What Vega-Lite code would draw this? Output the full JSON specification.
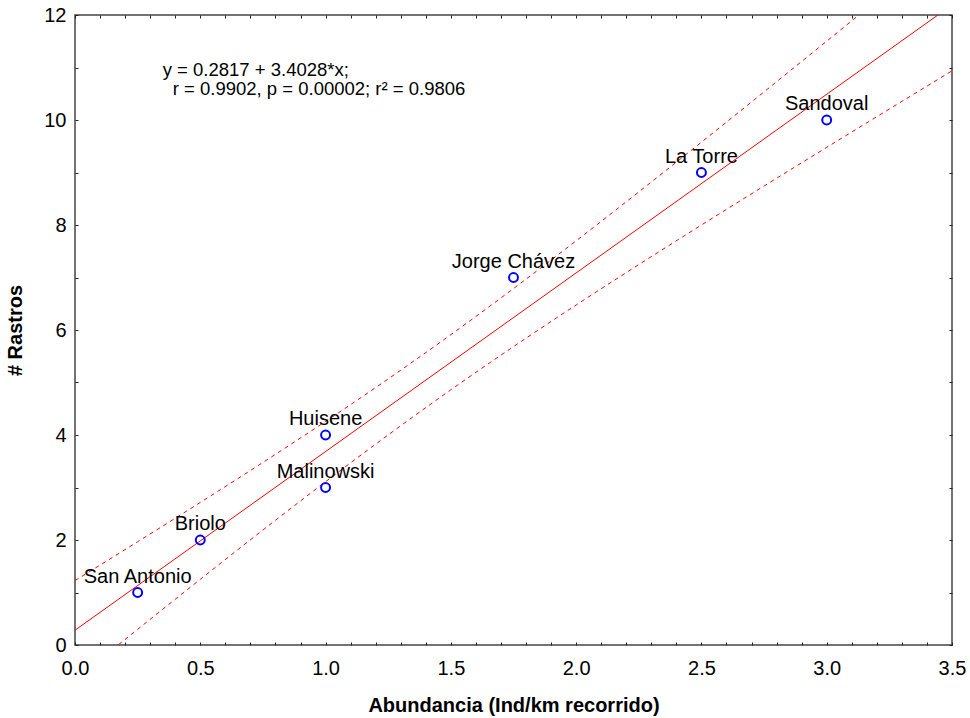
{
  "$schema": "https://vega.github.io/schema/vega-lite/v6.json",
  "width": 877,
  "height": 630,
  "autosize": {"type": "none"},
  "padding": {"left": 75, "top": 15, "right": 18, "bottom": 73},
  "background": "white",
  "config": {
    "view": {"stroke": "#444444", "strokeWidth": 1.5},
    "font": "Liberation Sans",
    "axis": {
      "grid": false,
      "domain": false,
      "tickSize": -3,
      "tickColor": "#222222",
      "tickWidth": 1,
      "labelFont": "Liberation Sans",
      "labelFontSize": 20,
      "labelColor": "#000000",
      "titleFont": "Liberation Sans",
      "titleFontSize": 20,
      "titleFontWeight": "bold",
      "titleColor": "#000000"
    }
  },
  "datasets": {
    "points": [
      {"site": "San Antonio", "abundancia": 0.25, "rastros": 1},
      {"site": "Briolo", "abundancia": 0.5, "rastros": 2},
      {"site": "Malinowski", "abundancia": 1.0, "rastros": 3},
      {"site": "Huisene", "abundancia": 1.0, "rastros": 4},
      {"site": "Jorge Chávez", "abundancia": 1.75, "rastros": 7},
      {"site": "La Torre", "abundancia": 2.5, "rastros": 9},
      {"site": "Sandoval", "abundancia": 3.0, "rastros": 10}
    ],
    "fit": [
      {"abundancia": 0.0, "rastros": 0.2817},
      {"abundancia": 3.5, "rastros": 12.1915}
    ],
    "bands": [
      {"band": "upper", "abundancia": 0.0, "rastros": 1.2268},
      {"band": "upper", "abundancia": 0.25, "rastros": 1.9665},
      {"band": "upper", "abundancia": 0.5, "rastros": 2.7152},
      {"band": "upper", "abundancia": 0.75, "rastros": 3.4773},
      {"band": "upper", "abundancia": 1.0, "rastros": 4.2592},
      {"band": "upper", "abundancia": 1.25, "rastros": 5.0683},
      {"band": "upper", "abundancia": 1.5, "rastros": 5.9114},
      {"band": "upper", "abundancia": 1.75, "rastros": 6.7897},
      {"band": "upper", "abundancia": 2.0, "rastros": 7.6985},
      {"band": "upper", "abundancia": 2.25, "rastros": 8.6302},
      {"band": "upper", "abundancia": 2.5, "rastros": 9.5777},
      {"band": "upper", "abundancia": 2.75, "rastros": 10.536},
      {"band": "upper", "abundancia": 3.0, "rastros": 11.5016},
      {"band": "upper", "abundancia": 3.25, "rastros": 12.4723},
      {"band": "upper", "abundancia": 3.5, "rastros": 13.4466},
      {"band": "lower", "abundancia": 0.0, "rastros": -0.6634},
      {"band": "lower", "abundancia": 0.25, "rastros": 0.2984},
      {"band": "lower", "abundancia": 0.5, "rastros": 1.251},
      {"band": "lower", "abundancia": 0.75, "rastros": 2.1903},
      {"band": "lower", "abundancia": 1.0, "rastros": 3.1098},
      {"band": "lower", "abundancia": 1.25, "rastros": 4.0021},
      {"band": "lower", "abundancia": 1.5, "rastros": 4.8605},
      {"band": "lower", "abundancia": 1.75, "rastros": 5.6835},
      {"band": "lower", "abundancia": 2.0, "rastros": 6.4761},
      {"band": "lower", "abundancia": 2.25, "rastros": 7.2458},
      {"band": "lower", "abundancia": 2.5, "rastros": 7.9997},
      {"band": "lower", "abundancia": 2.75, "rastros": 8.7428},
      {"band": "lower", "abundancia": 3.0, "rastros": 9.4786},
      {"band": "lower", "abundancia": 3.25, "rastros": 10.2093},
      {"band": "lower", "abundancia": 3.5, "rastros": 10.9364}
    ],
    "equation": [
      {"line": "y = 0.2817 + 3.4028*x;", "abundancia": 0.35, "rastros": 10.84},
      {"line": "r = 0.9902, p = 0.00002; r² = 0.9806", "abundancia": 0.39, "rastros": 10.47}
    ]
  },
  "layer": [
    {
      "data": {"name": "bands"},
      "mark": {"type": "line", "color": "#ff0000", "strokeWidth": 1, "strokeDash": [4, 4], "clip": true, "interpolate": "monotone"},
      "encoding": {
        "x": {
          "field": "abundancia", "type": "quantitative",
          "scale": {"domain": [0, 3.5], "nice": false, "zero": false},
          "axis": {
            "orient": "bottom",
            "title": "Abundancia (Ind/km recorrido)",
            "values": [0,0.1,0.2,0.3,0.4,0.5,0.6,0.7,0.8,0.9,1,1.1,1.2,1.3,1.4,1.5,1.6,1.7,1.8,1.9,2,2.1,2.2,2.3,2.4,2.5,2.6,2.7,2.8,2.9,3,3.1,3.2,3.3,3.4,3.5],
            "labelExpr": "round(datum.value * 10) % 5 == 0 ? format(datum.value, '.1f') : ''",
            "labelPadding": 16,
            "labelFlush": false,
            "labelOverlap": false,
            "titlePadding": 17
          }
        },
        "y": {
          "field": "rastros", "type": "quantitative",
          "scale": {"domain": [0, 12], "nice": false},
          "axis": {
            "orient": "left",
            "title": "# Rastros",
            "values": [0,1,2,3,4,5,6,7,8,9,10,11,12],
            "labelExpr": "datum.value % 2 == 0 ? format(datum.value, 'd') : ''",
            "labelPadding": 12,
            "labelFlush": false,
            "labelOverlap": false,
            "titlePadding": 18
          }
        },
        "detail": {"field": "band", "type": "nominal"}
      }
    },
    {
      "data": {"name": "fit"},
      "mark": {"type": "line", "color": "#ff0000", "strokeWidth": 1, "clip": true},
      "encoding": {
        "x": {
          "field": "abundancia", "type": "quantitative",
          "axis": {
            "orient": "top",
            "title": null,
            "labels": false,
            "values": [0,0.1,0.2,0.3,0.4,0.5,0.6,0.7,0.8,0.9,1,1.1,1.2,1.3,1.4,1.5,1.6,1.7,1.8,1.9,2,2.1,2.2,2.3,2.4,2.5,2.6,2.7,2.8,2.9,3,3.1,3.2,3.3,3.4,3.5]
          }
        },
        "y": {
          "field": "rastros", "type": "quantitative",
          "axis": {
            "orient": "right",
            "title": null,
            "labels": false,
            "values": [0,1,2,3,4,5,6,7,8,9,10,11,12]
          }
        }
      }
    },
    {
      "data": {"name": "points"},
      "mark": {"type": "point", "shape": "circle", "filled": false, "color": "#0000ff", "strokeWidth": 2, "size": 80, "opacity": 1},
      "encoding": {
        "x": {"field": "abundancia", "type": "quantitative", "axis": null},
        "y": {"field": "rastros", "type": "quantitative", "axis": null}
      }
    },
    {
      "data": {"name": "points"},
      "mark": {"type": "text", "align": "center", "baseline": "alphabetic", "dy": -10, "fontSize": 20, "font": "Liberation Sans", "color": "#000000"},
      "encoding": {
        "x": {"field": "abundancia", "type": "quantitative", "axis": null},
        "y": {"field": "rastros", "type": "quantitative", "axis": null},
        "text": {"field": "site", "type": "nominal"}
      }
    },
    {
      "data": {"name": "equation"},
      "mark": {"type": "text", "align": "left", "baseline": "alphabetic", "fontSize": 18.5, "font": "Liberation Sans", "color": "#000000"},
      "encoding": {
        "x": {"field": "abundancia", "type": "quantitative", "axis": null},
        "y": {"field": "rastros", "type": "quantitative", "axis": null},
        "text": {"field": "line", "type": "nominal"}
      }
    }
  ],
  "resolve": {"axis": {"x": "independent", "y": "independent"}}
}
